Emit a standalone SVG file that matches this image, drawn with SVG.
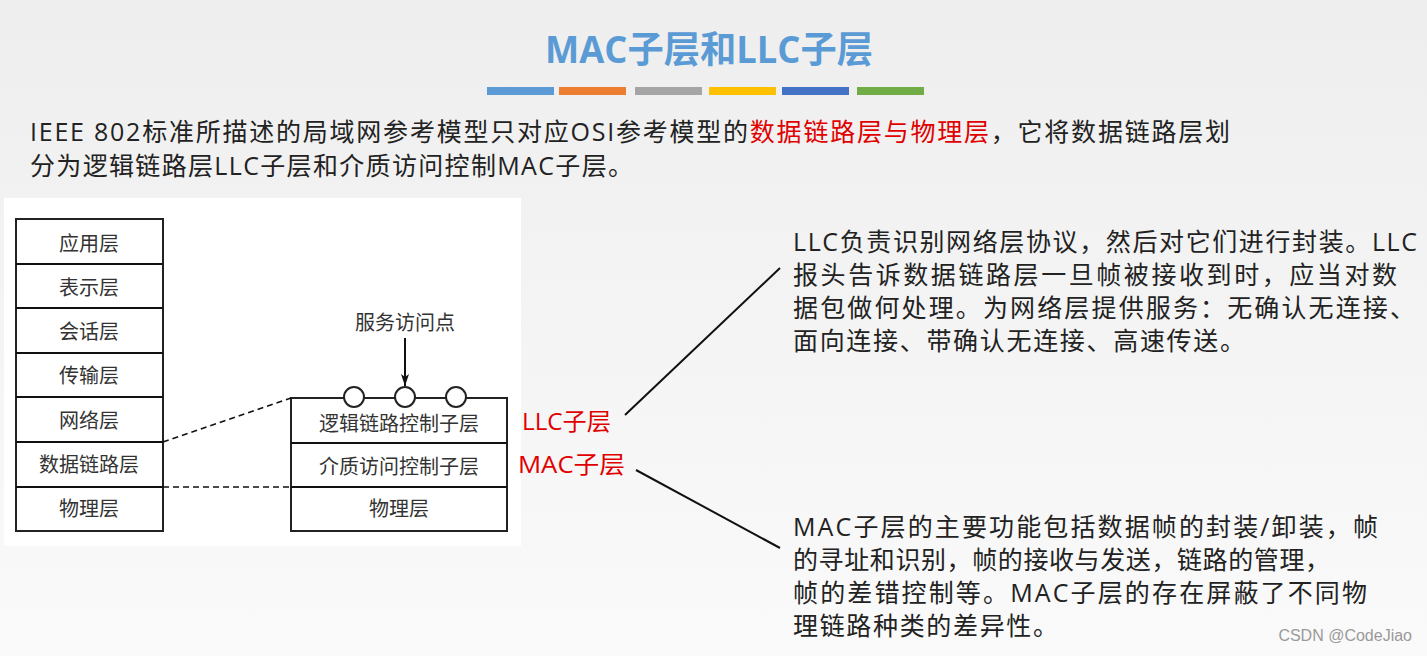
<svg xmlns="http://www.w3.org/2000/svg" width="1427" height="656" viewBox="0 0 1427 656">
<defs>
<linearGradient id="bg" x1="0" y1="0" x2="0" y2="1"><stop offset="0" stop-color="#eeeeee"/><stop offset="1" stop-color="#fafafa"/></linearGradient>
<marker id="ar" markerWidth="12" markerHeight="8" refX="12" refY="4" orient="auto" markerUnits="userSpaceOnUse" viewBox="0 0 12 8"><path d="M0,0 L12,4 L0,8 L3,4 Z" fill="#111"/></marker>
</defs>
<style>
.t{font-family:"Open Sans","Noto Sans CJK SC",sans-serif;font-size:25px;fill:#222}
.s{font-family:"Liberation Serif","Noto Sans CJK SC",serif;font-size:20px;fill:#333;text-anchor:middle}
.b{fill:#fff;stroke:#222;stroke-width:2}
.r{fill:#e00000;font-family:"Open Sans","Noto Sans CJK SC",sans-serif;font-size:24px}
.ln{stroke:#111;stroke-width:2;fill:none}
.d{stroke:#111;stroke-width:1.6;stroke-dasharray:6,4;fill:none}
</style>
<rect width="1427" height="656" fill="url(#bg)"/>
<text x="545" y="63" textLength="328" lengthAdjust="spacingAndGlyphs" font-family="Open Sans,Noto Sans CJK SC,sans-serif" font-size="37" font-weight="bold" fill="#5b9bd5">MAC子层和LLC子层</text>
<g>
<rect x="487" y="87" width="67" height="8" fill="#5b9bd5"/><rect x="559" y="87" width="67" height="8" fill="#ed7d31"/><rect x="635" y="87" width="67" height="8" fill="#a5a5a5"/><rect x="709" y="87" width="67" height="8" fill="#ffc000"/><rect x="782" y="87" width="67" height="8" fill="#4472c4"/><rect x="857" y="87" width="67" height="8" fill="#70ad47"/>
</g>
<text class="t" x="30" y="141" textLength="1200" lengthAdjust="spacing">IEEE 802标准所描述的局域网参考模型只对应OSI参考模型的<tspan fill="#e00000">数据链路层与物理层</tspan>，它将数据链路层划</text>
<text class="t" x="30" y="175" textLength="603" lengthAdjust="spacing">分为逻辑链路层LLC子层和介质访问控制MAC子层。</text>
<rect x="4" y="198" width="517" height="348" fill="#fff"/>
<g id="osi">
<rect class="b" x="16" y="219" width="147" height="312"/>
<path class="ln" d="M16,264H163M16,308H163M16,353H163M16,397H163M16,442H163M16,487H163"/>
<text class="s" x="89" y="251">应用层</text><text class="s" x="89" y="295">表示层</text><text class="s" x="89" y="339">会话层</text><text class="s" x="89" y="383">传输层</text><text class="s" x="89" y="428">网络层</text><text class="s" x="89" y="472">数据链路层</text><text class="s" x="89" y="516">物理层</text>
</g>
<g id="lan">
<rect class="b" x="291" y="398" width="216" height="133"/>
<path class="ln" d="M291,443H507M291,487H507"/>
<text class="s" x="399" y="431">逻辑链路控制子层</text><text class="s" x="399" y="474">介质访问控制子层</text><text class="s" x="399" y="516">物理层</text>
<circle class="b" cx="354" cy="397" r="10"/><circle class="b" cx="405" cy="397" r="10"/><circle class="b" cx="456" cy="397" r="10"/>
<text class="s" x="405" y="330">服务访问点</text>
</g>
<g id="labels">
<text class="r" x="522" y="430" textLength="89" lengthAdjust="spacingAndGlyphs">LLC子层</text>
<text class="r" x="518" y="473" textLength="107" lengthAdjust="spacingAndGlyphs">MAC子层</text>
<text class="t" x="793" y="251" textLength="624" lengthAdjust="spacing">LLC负责识别网络层协议，然后对它们进行封装。LLC</text>
<text class="t" x="793" y="284" textLength="604" lengthAdjust="spacing">报头告诉数据链路层一旦帧被接收到时，应当对数</text>
<text class="t" x="793" y="317" textLength="622" lengthAdjust="spacing">据包做何处理。为网络层提供服务：无确认无连接、</text>
<text class="t" x="793" y="350" textLength="452" lengthAdjust="spacing">面向连接、带确认无连接、高速传送。</text>
<text class="t" x="793" y="536" textLength="585" lengthAdjust="spacing">MAC子层的主要功能包括数据帧的封装/卸装，帧</text>
<text class="t" x="793" y="569" textLength="537" lengthAdjust="spacing">的寻址和识别，帧的接收与发送，链路的管理，</text>
<text class="t" x="793" y="602" textLength="574" lengthAdjust="spacing">帧的差错控制等。MAC子层的存在屏蔽了不同物</text>
<text class="t" x="793" y="635" textLength="265" lengthAdjust="spacing">理链路种类的差异性。</text>
</g>
<g id="connectors">
<path class="ln" d="M405,338V386" stroke-width="1.5" marker-end="url(#ar)"/>
<path class="d" d="M163,442L291,398M163,487H291"/>
<path class="ln" d="M625,415L780,268M636,470L780,548"/>
</g>
<text x="1412" y="641" text-anchor="end" font-family="Liberation Sans,Noto Sans CJK SC,sans-serif" font-size="16" fill="#999">CSDN @CodeJiao</text>
</svg>
